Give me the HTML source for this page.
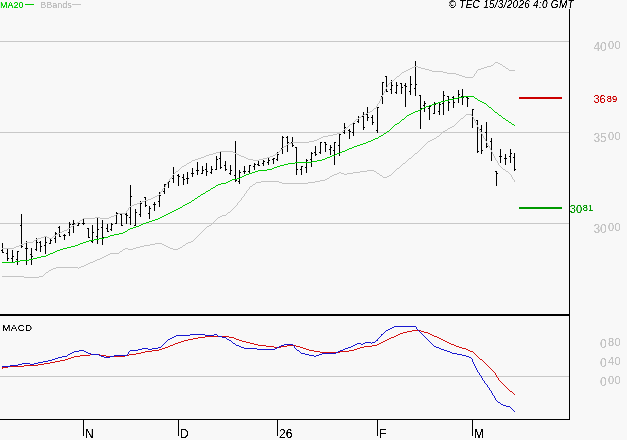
<!DOCTYPE html>
<html><head><meta charset="utf-8"><title>chart</title>
<style>
html,body{margin:0;padding:0;background:#f8f8f8;}
body{width:627px;height:440px;overflow:hidden;font-family:"Liberation Sans",sans-serif;}
svg{display:block;font-family:"Liberation Sans",sans-serif;}
</style></head><body>
<svg width="627" height="440" viewBox="0 0 627 440">
<defs><filter id="idf" x="0" y="0" width="627" height="440" filterUnits="userSpaceOnUse"><feComponentTransfer><feFuncA type="linear" slope="3" intercept="-0.75"/></feComponentTransfer></filter></defs>
<rect x="0" y="0" width="627" height="440" fill="#f8f8f8"/>
<g shape-rendering="crispEdges">
<rect x="0" y="41" width="569" height="1" fill="#c8c8c8"/>
<rect x="0" y="132" width="569" height="1" fill="#c8c8c8"/>
<rect x="0" y="223" width="569" height="1" fill="#c8c8c8"/>
<rect x="0" y="376" width="569" height="1" fill="#c8c8c8"/>
<g fill="#000"><rect x="2" y="243" width="1" height="10"/><rect x="1" y="250" width="1" height="1"/><rect x="3" y="252" width="1" height="1"/><rect x="7" y="249" width="1" height="12"/><rect x="6" y="253" width="1" height="1"/><rect x="8" y="258" width="1" height="1"/><rect x="12" y="250" width="1" height="12"/><rect x="11" y="258" width="1" height="1"/><rect x="13" y="256" width="1" height="1"/><rect x="17" y="251" width="1" height="14"/><rect x="16" y="259" width="1" height="1"/><rect x="18" y="251" width="1" height="1"/><rect x="21" y="214" width="1" height="34"/><rect x="20" y="225" width="1" height="1"/><rect x="22" y="246" width="1" height="1"/><rect x="26" y="241" width="1" height="24"/><rect x="25" y="248" width="1" height="1"/><rect x="27" y="248" width="1" height="1"/><rect x="31" y="248" width="1" height="17"/><rect x="30" y="254" width="1" height="1"/><rect x="32" y="256" width="1" height="1"/><rect x="36" y="238" width="1" height="13"/><rect x="35" y="249" width="1" height="1"/><rect x="37" y="242" width="1" height="1"/><rect x="40" y="241" width="1" height="11"/><rect x="39" y="242" width="1" height="1"/><rect x="41" y="246" width="1" height="1"/><rect x="45" y="236" width="1" height="18"/><rect x="44" y="245" width="1" height="1"/><rect x="46" y="242" width="1" height="1"/><rect x="50" y="239" width="1" height="5"/><rect x="49" y="243" width="1" height="1"/><rect x="51" y="240" width="1" height="1"/><rect x="55" y="232" width="1" height="11"/><rect x="54" y="238" width="1" height="1"/><rect x="56" y="233" width="1" height="1"/><rect x="59" y="226" width="1" height="11"/><rect x="58" y="227" width="1" height="1"/><rect x="60" y="236" width="1" height="1"/><rect x="64" y="234" width="1" height="6"/><rect x="63" y="235" width="1" height="1"/><rect x="65" y="235" width="1" height="1"/><rect x="69" y="222" width="1" height="14"/><rect x="68" y="232" width="1" height="1"/><rect x="70" y="224" width="1" height="1"/><rect x="73" y="220" width="1" height="13"/><rect x="72" y="224" width="1" height="1"/><rect x="74" y="223" width="1" height="1"/><rect x="78" y="222" width="1" height="4"/><rect x="77" y="225" width="1" height="1"/><rect x="79" y="223" width="1" height="1"/><rect x="83" y="219" width="1" height="6"/><rect x="82" y="223" width="1" height="1"/><rect x="84" y="223" width="1" height="1"/><rect x="88" y="228" width="1" height="10"/><rect x="87" y="228" width="1" height="1"/><rect x="89" y="237" width="1" height="1"/><rect x="92" y="225" width="1" height="18"/><rect x="91" y="241" width="1" height="1"/><rect x="93" y="232" width="1" height="1"/><rect x="97" y="218" width="1" height="26"/><rect x="96" y="236" width="1" height="1"/><rect x="98" y="229" width="1" height="1"/><rect x="102" y="220" width="1" height="25"/><rect x="101" y="227" width="1" height="1"/><rect x="103" y="237" width="1" height="1"/><rect x="107" y="224" width="1" height="8"/><rect x="106" y="228" width="1" height="1"/><rect x="108" y="231" width="1" height="1"/><rect x="111" y="223" width="1" height="8"/><rect x="110" y="229" width="1" height="1"/><rect x="112" y="224" width="1" height="1"/><rect x="116" y="212" width="1" height="12"/><rect x="115" y="223" width="1" height="1"/><rect x="117" y="213" width="1" height="1"/><rect x="121" y="214" width="1" height="12"/><rect x="120" y="214" width="1" height="1"/><rect x="122" y="225" width="1" height="1"/><rect x="126" y="213" width="1" height="11"/><rect x="125" y="214" width="1" height="1"/><rect x="127" y="215" width="1" height="1"/><rect x="130" y="185" width="1" height="40"/><rect x="129" y="217" width="1" height="1"/><rect x="131" y="196" width="1" height="1"/><rect x="135" y="209" width="1" height="17"/><rect x="134" y="225" width="1" height="1"/><rect x="136" y="212" width="1" height="1"/><rect x="140" y="201" width="1" height="16"/><rect x="139" y="214" width="1" height="1"/><rect x="141" y="203" width="1" height="1"/><rect x="145" y="197" width="1" height="10"/><rect x="144" y="197" width="1" height="1"/><rect x="146" y="205" width="1" height="1"/><rect x="149" y="206" width="1" height="13"/><rect x="148" y="213" width="1" height="1"/><rect x="150" y="208" width="1" height="1"/><rect x="154" y="202" width="1" height="9"/><rect x="153" y="204" width="1" height="1"/><rect x="155" y="204" width="1" height="1"/><rect x="159" y="192" width="1" height="15"/><rect x="158" y="201" width="1" height="1"/><rect x="160" y="195" width="1" height="1"/><rect x="164" y="184" width="1" height="10"/><rect x="163" y="191" width="1" height="1"/><rect x="165" y="184" width="1" height="1"/><rect x="168" y="181" width="1" height="7"/><rect x="167" y="183" width="1" height="1"/><rect x="169" y="181" width="1" height="1"/><rect x="173" y="167" width="1" height="16"/><rect x="172" y="178" width="1" height="1"/><rect x="174" y="173" width="1" height="1"/><rect x="178" y="174" width="1" height="12"/><rect x="177" y="175" width="1" height="1"/><rect x="179" y="176" width="1" height="1"/><rect x="183" y="174" width="1" height="11"/><rect x="182" y="177" width="1" height="1"/><rect x="184" y="179" width="1" height="1"/><rect x="187" y="172" width="1" height="12"/><rect x="186" y="178" width="1" height="1"/><rect x="188" y="178" width="1" height="1"/><rect x="192" y="168" width="1" height="9"/><rect x="191" y="173" width="1" height="1"/><rect x="193" y="173" width="1" height="1"/><rect x="197" y="162" width="1" height="13"/><rect x="196" y="170" width="1" height="1"/><rect x="198" y="170" width="1" height="1"/><rect x="202" y="166" width="1" height="8"/><rect x="201" y="173" width="1" height="1"/><rect x="203" y="170" width="1" height="1"/><rect x="206" y="163" width="1" height="13"/><rect x="205" y="169" width="1" height="1"/><rect x="207" y="171" width="1" height="1"/><rect x="211" y="166" width="1" height="8"/><rect x="210" y="172" width="1" height="1"/><rect x="212" y="169" width="1" height="1"/><rect x="216" y="156" width="1" height="14"/><rect x="215" y="169" width="1" height="1"/><rect x="217" y="159" width="1" height="1"/><rect x="220" y="151" width="1" height="18"/><rect x="219" y="158" width="1" height="1"/><rect x="221" y="167" width="1" height="1"/><rect x="225" y="161" width="1" height="10"/><rect x="224" y="165" width="1" height="1"/><rect x="226" y="169" width="1" height="1"/><rect x="230" y="165" width="1" height="10"/><rect x="229" y="173" width="1" height="1"/><rect x="231" y="170" width="1" height="1"/><rect x="235" y="141" width="1" height="41"/><rect x="234" y="175" width="1" height="1"/><rect x="236" y="180" width="1" height="1"/><rect x="239" y="170" width="1" height="14"/><rect x="238" y="181" width="1" height="1"/><rect x="240" y="172" width="1" height="1"/><rect x="244" y="166" width="1" height="8"/><rect x="243" y="171" width="1" height="1"/><rect x="245" y="171" width="1" height="1"/><rect x="249" y="165" width="1" height="9"/><rect x="248" y="171" width="1" height="1"/><rect x="250" y="165" width="1" height="1"/><rect x="254" y="163" width="1" height="7"/><rect x="253" y="166" width="1" height="1"/><rect x="255" y="164" width="1" height="1"/><rect x="258" y="161" width="1" height="5"/><rect x="257" y="164" width="1" height="1"/><rect x="259" y="165" width="1" height="1"/><rect x="263" y="160" width="1" height="6"/><rect x="262" y="163" width="1" height="1"/><rect x="264" y="161" width="1" height="1"/><rect x="268" y="157" width="1" height="8"/><rect x="267" y="162" width="1" height="1"/><rect x="269" y="160" width="1" height="1"/><rect x="273" y="158" width="1" height="6"/><rect x="272" y="159" width="1" height="1"/><rect x="274" y="158" width="1" height="1"/><rect x="277" y="152" width="1" height="9"/><rect x="276" y="159" width="1" height="1"/><rect x="278" y="154" width="1" height="1"/><rect x="282" y="136" width="1" height="18"/><rect x="281" y="148" width="1" height="1"/><rect x="283" y="137" width="1" height="1"/><rect x="287" y="136" width="1" height="16"/><rect x="286" y="137" width="1" height="1"/><rect x="288" y="142" width="1" height="1"/><rect x="292" y="137" width="1" height="10"/><rect x="291" y="142" width="1" height="1"/><rect x="293" y="145" width="1" height="1"/><rect x="296" y="147" width="1" height="28"/><rect x="295" y="147" width="1" height="1"/><rect x="297" y="169" width="1" height="1"/><rect x="301" y="166" width="1" height="9"/><rect x="300" y="169" width="1" height="1"/><rect x="302" y="166" width="1" height="1"/><rect x="306" y="159" width="1" height="14"/><rect x="305" y="167" width="1" height="1"/><rect x="307" y="160" width="1" height="1"/><rect x="311" y="152" width="1" height="15"/><rect x="310" y="159" width="1" height="1"/><rect x="312" y="153" width="1" height="1"/><rect x="315" y="146" width="1" height="10"/><rect x="314" y="152" width="1" height="1"/><rect x="316" y="154" width="1" height="1"/><rect x="320" y="142" width="1" height="12"/><rect x="319" y="152" width="1" height="1"/><rect x="321" y="142" width="1" height="1"/><rect x="325" y="142" width="1" height="10"/><rect x="324" y="142" width="1" height="1"/><rect x="326" y="144" width="1" height="1"/><rect x="330" y="145" width="1" height="10"/><rect x="329" y="149" width="1" height="1"/><rect x="331" y="147" width="1" height="1"/><rect x="334" y="142" width="1" height="23"/><rect x="333" y="150" width="1" height="1"/><rect x="335" y="142" width="1" height="1"/><rect x="339" y="134" width="1" height="22"/><rect x="338" y="145" width="1" height="1"/><rect x="340" y="134" width="1" height="1"/><rect x="344" y="123" width="1" height="11"/><rect x="343" y="132" width="1" height="1"/><rect x="345" y="127" width="1" height="1"/><rect x="349" y="129" width="1" height="10"/><rect x="348" y="130" width="1" height="1"/><rect x="350" y="131" width="1" height="1"/><rect x="353" y="123" width="1" height="13"/><rect x="352" y="132" width="1" height="1"/><rect x="354" y="123" width="1" height="1"/><rect x="358" y="116" width="1" height="7"/><rect x="357" y="121" width="1" height="1"/><rect x="359" y="117" width="1" height="1"/><rect x="363" y="112" width="1" height="18"/><rect x="362" y="116" width="1" height="1"/><rect x="364" y="127" width="1" height="1"/><rect x="367" y="107" width="1" height="14"/><rect x="366" y="114" width="1" height="1"/><rect x="368" y="117" width="1" height="1"/><rect x="372" y="115" width="1" height="10"/><rect x="371" y="117" width="1" height="1"/><rect x="373" y="122" width="1" height="1"/><rect x="377" y="107" width="1" height="26"/><rect x="376" y="130" width="1" height="1"/><rect x="378" y="107" width="1" height="1"/><rect x="382" y="82" width="1" height="22"/><rect x="381" y="96" width="1" height="1"/><rect x="383" y="82" width="1" height="1"/><rect x="386" y="76" width="1" height="16"/><rect x="385" y="76" width="1" height="1"/><rect x="387" y="91" width="1" height="1"/><rect x="391" y="80" width="1" height="14"/><rect x="390" y="89" width="1" height="1"/><rect x="392" y="85" width="1" height="1"/><rect x="396" y="82" width="1" height="12"/><rect x="395" y="92" width="1" height="1"/><rect x="397" y="85" width="1" height="1"/><rect x="401" y="83" width="1" height="11"/><rect x="400" y="83" width="1" height="1"/><rect x="402" y="87" width="1" height="1"/><rect x="405" y="83" width="1" height="24"/><rect x="404" y="85" width="1" height="1"/><rect x="406" y="86" width="1" height="1"/><rect x="410" y="76" width="1" height="19"/><rect x="409" y="91" width="1" height="1"/><rect x="411" y="84" width="1" height="1"/><rect x="415" y="61" width="1" height="35"/><rect x="414" y="88" width="1" height="1"/><rect x="416" y="84" width="1" height="1"/><rect x="420" y="95" width="1" height="34"/><rect x="419" y="95" width="1" height="1"/><rect x="421" y="108" width="1" height="1"/><rect x="424" y="101" width="1" height="11"/><rect x="423" y="105" width="1" height="1"/><rect x="425" y="103" width="1" height="1"/><rect x="429" y="106" width="1" height="14"/><rect x="428" y="108" width="1" height="1"/><rect x="430" y="106" width="1" height="1"/><rect x="434" y="102" width="1" height="12"/><rect x="433" y="113" width="1" height="1"/><rect x="435" y="104" width="1" height="1"/><rect x="439" y="103" width="1" height="12"/><rect x="438" y="111" width="1" height="1"/><rect x="440" y="104" width="1" height="1"/><rect x="443" y="91" width="1" height="24"/><rect x="442" y="103" width="1" height="1"/><rect x="444" y="95" width="1" height="1"/><rect x="448" y="96" width="1" height="15"/><rect x="447" y="96" width="1" height="1"/><rect x="449" y="102" width="1" height="1"/><rect x="453" y="96" width="1" height="12"/><rect x="452" y="97" width="1" height="1"/><rect x="454" y="102" width="1" height="1"/><rect x="458" y="90" width="1" height="13"/><rect x="457" y="98" width="1" height="1"/><rect x="459" y="94" width="1" height="1"/><rect x="462" y="89" width="1" height="16"/><rect x="461" y="96" width="1" height="1"/><rect x="463" y="97" width="1" height="1"/><rect x="467" y="97" width="1" height="10"/><rect x="466" y="97" width="1" height="1"/><rect x="468" y="98" width="1" height="1"/><rect x="472" y="109" width="1" height="19"/><rect x="471" y="114" width="1" height="1"/><rect x="473" y="109" width="1" height="1"/><rect x="477" y="120" width="1" height="33"/><rect x="476" y="120" width="1" height="1"/><rect x="478" y="151" width="1" height="1"/><rect x="481" y="125" width="1" height="29"/><rect x="480" y="129" width="1" height="1"/><rect x="482" y="150" width="1" height="1"/><rect x="486" y="122" width="1" height="26"/><rect x="485" y="132" width="1" height="1"/><rect x="487" y="146" width="1" height="1"/><rect x="491" y="138" width="1" height="23"/><rect x="490" y="141" width="1" height="1"/><rect x="492" y="153" width="1" height="1"/><rect x="496" y="171" width="1" height="15"/><rect x="495" y="171" width="1" height="1"/><rect x="497" y="173" width="1" height="1"/><rect x="500" y="149" width="1" height="14"/><rect x="499" y="156" width="1" height="1"/><rect x="501" y="156" width="1" height="1"/><rect x="505" y="154" width="1" height="11"/><rect x="504" y="158" width="1" height="1"/><rect x="506" y="158" width="1" height="1"/><rect x="510" y="149" width="1" height="14"/><rect x="509" y="156" width="1" height="1"/><rect x="511" y="153" width="1" height="1"/><rect x="514" y="153" width="1" height="18"/><rect x="513" y="157" width="1" height="1"/><rect x="515" y="169" width="1" height="1"/></g>
<path d="M495 62h3v1h-3zM494 63h1v1h-1zM498 63h2v1h-2zM493 64h1v1h-1zM500 64h2v1h-2zM491 65h2v1h-2zM502 65h1v1h-1zM414 66h4v1h-4zM487 66h4v1h-4zM503 66h2v1h-2zM412 67h2v1h-2zM418 67h3v1h-3zM484 67h3v1h-3zM505 67h1v1h-1zM410 68h2v1h-2zM421 68h4v1h-4zM481 68h3v1h-3zM506 68h2v1h-2zM408 69h2v1h-2zM425 69h4v1h-4zM478 69h3v1h-3zM508 69h1v1h-1zM406 70h2v1h-2zM429 70h3v1h-3zM477 70h1v1h-1zM509 70h6v1h-6zM404 71h2v1h-2zM432 71h11v1h-11zM476 71h1v1h-1zM402 72h2v1h-2zM443 72h4v1h-4zM476 72h1v1h-1zM401 73h1v1h-1zM447 73h9v1h-9zM475 73h1v1h-1zM400 74h1v1h-1zM456 74h3v1h-3zM474 74h1v1h-1zM399 75h1v1h-1zM459 75h3v1h-3zM474 75h1v1h-1zM397 76h2v1h-2zM462 76h3v1h-3zM473 76h1v1h-1zM396 77h1v1h-1zM465 77h8v1h-8zM395 78h1v1h-1zM394 79h1v1h-1zM393 80h1v1h-1zM391 81h2v1h-2zM390 82h1v1h-1zM389 83h1v1h-1zM388 84h1v1h-1zM387 85h1v1h-1zM387 86h1v1h-1zM386 87h1v1h-1zM386 88h1v1h-1zM385 89h1v1h-1zM385 90h1v1h-1zM384 91h1v1h-1zM384 92h1v1h-1zM383 93h1v1h-1zM383 94h1v1h-1zM382 95h1v1h-1zM382 96h1v1h-1zM381 97h1v1h-1zM381 98h1v1h-1zM380 99h1v1h-1zM380 100h1v1h-1zM379 101h1v1h-1zM379 102h1v1h-1zM378 103h1v1h-1zM377 104h1v1h-1zM377 105h1v1h-1zM376 106h1v1h-1zM376 107h1v1h-1zM374 108h2v1h-2zM373 109h1v1h-1zM372 110h1v1h-1zM370 111h2v1h-2zM368 112h2v1h-2zM366 113h2v1h-2zM364 114h2v1h-2zM362 115h2v1h-2zM361 116h1v1h-1zM359 117h2v1h-2zM358 118h1v1h-1zM356 119h2v1h-2zM355 120h1v1h-1zM354 121h1v1h-1zM353 122h1v1h-1zM352 123h1v1h-1zM350 124h2v1h-2zM349 125h1v1h-1zM348 126h1v1h-1zM347 127h1v1h-1zM346 128h1v1h-1zM344 129h2v1h-2zM343 130h1v1h-1zM342 131h1v1h-1zM340 132h2v1h-2zM337 133h3v1h-3zM333 134h4v1h-4zM328 135h5v1h-5zM323 136h5v1h-5zM321 137h2v1h-2zM319 138h2v1h-2zM317 139h2v1h-2zM314 140h3v1h-3zM309 141h5v1h-5zM292 142h17v1h-17zM289 143h3v1h-3zM287 144h2v1h-2zM286 145h1v1h-1zM284 146h2v1h-2zM283 147h1v1h-1zM282 148h1v1h-1zM281 149h1v1h-1zM280 150h1v1h-1zM220 151h13v1h-13zM279 151h1v1h-1zM216 152h4v1h-4zM233 152h2v1h-2zM278 152h1v1h-1zM213 153h3v1h-3zM235 153h2v1h-2zM276 153h2v1h-2zM209 154h4v1h-4zM237 154h2v1h-2zM275 154h1v1h-1zM206 155h3v1h-3zM239 155h2v1h-2zM273 155h2v1h-2zM204 156h2v1h-2zM241 156h3v1h-3zM270 156h3v1h-3zM201 157h3v1h-3zM244 157h2v1h-2zM267 157h3v1h-3zM198 158h3v1h-3zM246 158h2v1h-2zM263 158h4v1h-4zM195 159h3v1h-3zM248 159h5v1h-5zM259 159h4v1h-4zM192 160h3v1h-3zM253 160h6v1h-6zM191 161h1v1h-1zM189 162h2v1h-2zM187 163h2v1h-2zM186 164h1v1h-1zM184 165h2v1h-2zM182 166h2v1h-2zM181 167h1v1h-1zM180 168h1v1h-1zM179 169h1v1h-1zM178 170h1v1h-1zM176 171h2v1h-2zM175 172h1v1h-1zM174 173h1v1h-1zM173 174h1v1h-1zM172 175h1v1h-1zM172 176h1v1h-1zM171 177h1v1h-1zM170 178h1v1h-1zM169 179h1v1h-1zM169 180h1v1h-1zM168 181h1v1h-1zM167 182h1v1h-1zM167 183h1v1h-1zM166 184h1v1h-1zM165 185h1v1h-1zM165 186h1v1h-1zM164 187h1v1h-1zM163 188h1v1h-1zM162 189h1v1h-1zM162 190h1v1h-1zM161 191h1v1h-1zM160 192h1v1h-1zM160 193h1v1h-1zM159 194h1v1h-1zM157 195h2v1h-2zM155 196h2v1h-2zM153 197h2v1h-2zM151 198h2v1h-2zM148 199h3v1h-3zM145 200h3v1h-3zM142 201h3v1h-3zM140 202h2v1h-2zM137 203h3v1h-3zM134 204h3v1h-3zM132 205h2v1h-2zM130 206h2v1h-2zM129 207h1v1h-1zM128 208h1v1h-1zM128 209h1v1h-1zM127 210h1v1h-1zM126 211h1v1h-1zM126 212h1v1h-1zM118 213h8v1h-8zM116 214h2v1h-2zM114 215h2v1h-2zM111 216h3v1h-3zM95 217h5v1h-5zM109 217h2v1h-2zM83 218h12v1h-12zM100 218h9v1h-9zM82 219h1v1h-1zM80 220h2v1h-2zM79 221h1v1h-1zM77 222h2v1h-2zM76 223h1v1h-1zM74 224h2v1h-2zM73 225h1v1h-1zM71 226h2v1h-2zM70 227h1v1h-1zM68 228h2v1h-2zM67 229h1v1h-1zM64 230h3v1h-3zM62 231h2v1h-2zM60 232h2v1h-2zM58 233h2v1h-2zM56 234h2v1h-2zM54 235h2v1h-2zM44 236h3v1h-3zM53 236h1v1h-1zM41 237h3v1h-3zM47 237h2v1h-2zM52 237h1v1h-1zM38 238h3v1h-3zM49 238h3v1h-3zM36 239h2v1h-2zM34 240h2v1h-2zM33 241h1v1h-1zM26 242h7v1h-7zM24 243h2v1h-2zM21 244h3v1h-3zM19 245h2v1h-2zM16 246h3v1h-3zM14 247h2v1h-2zM2 248h12v1h-12z" fill="#c4c4c4"/>
<path d="M466 114h6v1h-6zM465 115h1v1h-1zM471 115h1v1h-1zM464 116h1v1h-1zM472 116h1v1h-1zM463 117h1v1h-1zM473 117h1v1h-1zM461 118h2v1h-2zM473 118h1v1h-1zM460 119h1v1h-1zM474 119h1v1h-1zM459 120h1v1h-1zM474 120h1v1h-1zM458 121h1v1h-1zM475 121h1v1h-1zM457 122h1v1h-1zM475 122h1v1h-1zM456 123h1v1h-1zM476 123h1v1h-1zM455 124h1v1h-1zM476 124h1v1h-1zM454 125h1v1h-1zM477 125h1v1h-1zM452 126h2v1h-2zM477 126h1v1h-1zM450 127h2v1h-2zM478 127h1v1h-1zM448 128h2v1h-2zM478 128h1v1h-1zM447 129h1v1h-1zM479 129h1v1h-1zM445 130h2v1h-2zM479 130h1v1h-1zM443 131h2v1h-2zM480 131h1v1h-1zM442 132h1v1h-1zM481 132h1v1h-1zM441 133h1v1h-1zM481 133h1v1h-1zM440 134h1v1h-1zM482 134h1v1h-1zM439 135h1v1h-1zM482 135h1v1h-1zM437 136h2v1h-2zM483 136h1v1h-1zM436 137h1v1h-1zM483 137h1v1h-1zM434 138h2v1h-2zM484 138h1v1h-1zM432 139h2v1h-2zM485 139h1v1h-1zM430 140h2v1h-2zM485 140h1v1h-1zM428 141h2v1h-2zM486 141h1v1h-1zM427 142h1v1h-1zM486 142h1v1h-1zM426 143h1v1h-1zM487 143h1v1h-1zM425 144h1v1h-1zM487 144h1v1h-1zM424 145h1v1h-1zM488 145h1v1h-1zM423 146h1v1h-1zM489 146h1v1h-1zM422 147h1v1h-1zM489 147h1v1h-1zM421 148h1v1h-1zM490 148h1v1h-1zM420 149h1v1h-1zM490 149h1v1h-1zM419 150h1v1h-1zM491 150h1v1h-1zM418 151h1v1h-1zM491 151h1v1h-1zM417 152h1v1h-1zM492 152h1v1h-1zM415 153h2v1h-2zM492 153h1v1h-1zM414 154h1v1h-1zM493 154h1v1h-1zM413 155h1v1h-1zM493 155h1v1h-1zM412 156h1v1h-1zM494 156h1v1h-1zM411 157h1v1h-1zM494 157h1v1h-1zM409 158h2v1h-2zM495 158h1v1h-1zM408 159h1v1h-1zM495 159h1v1h-1zM407 160h1v1h-1zM496 160h1v1h-1zM406 161h1v1h-1zM497 161h1v1h-1zM405 162h1v1h-1zM497 162h1v1h-1zM403 163h2v1h-2zM498 163h1v1h-1zM402 164h1v1h-1zM498 164h1v1h-1zM401 165h1v1h-1zM499 165h1v1h-1zM400 166h1v1h-1zM500 166h1v1h-1zM399 167h1v1h-1zM501 167h1v1h-1zM397 168h2v1h-2zM502 168h1v1h-1zM396 169h1v1h-1zM503 169h2v1h-2zM367 170h7v1h-7zM395 170h1v1h-1zM505 170h1v1h-1zM360 171h7v1h-7zM374 171h2v1h-2zM394 171h1v1h-1zM506 171h2v1h-2zM339 172h2v1h-2zM353 172h7v1h-7zM376 172h1v1h-1zM393 172h1v1h-1zM508 172h1v1h-1zM337 173h2v1h-2zM341 173h3v1h-3zM347 173h6v1h-6zM377 173h2v1h-2zM392 173h1v1h-1zM509 173h1v1h-1zM334 174h3v1h-3zM344 174h3v1h-3zM379 174h1v1h-1zM391 174h1v1h-1zM510 174h1v1h-1zM332 175h2v1h-2zM380 175h2v1h-2zM389 175h2v1h-2zM511 175h1v1h-1zM330 176h2v1h-2zM382 176h1v1h-1zM387 176h2v1h-2zM511 176h1v1h-1zM329 177h1v1h-1zM383 177h4v1h-4zM512 177h1v1h-1zM327 178h2v1h-2zM512 178h1v1h-1zM325 179h2v1h-2zM513 179h1v1h-1zM320 180h5v1h-5zM514 180h1v1h-1zM261 181h18v1h-18zM315 181h5v1h-5zM514 181h1v1h-1zM256 182h5v1h-5zM279 182h3v1h-3zM308 182h7v1h-7zM255 183h1v1h-1zM282 183h26v1h-26zM253 184h2v1h-2zM252 185h1v1h-1zM250 186h2v1h-2zM249 187h1v1h-1zM249 188h1v1h-1zM248 189h1v1h-1zM247 190h1v1h-1zM246 191h1v1h-1zM246 192h1v1h-1zM245 193h1v1h-1zM244 194h1v1h-1zM244 195h1v1h-1zM243 196h1v1h-1zM242 197h1v1h-1zM241 198h1v1h-1zM241 199h1v1h-1zM240 200h1v1h-1zM239 201h1v1h-1zM238 202h1v1h-1zM237 203h1v1h-1zM237 204h1v1h-1zM236 205h1v1h-1zM235 206h1v1h-1zM234 207h1v1h-1zM233 208h1v1h-1zM232 209h1v1h-1zM231 210h1v1h-1zM230 211h1v1h-1zM228 212h2v1h-2zM227 213h1v1h-1zM226 214h1v1h-1zM222 215h4v1h-4zM220 216h2v1h-2zM218 217h2v1h-2zM217 218h1v1h-1zM216 219h1v1h-1zM215 220h1v1h-1zM214 221h1v1h-1zM213 222h1v1h-1zM212 223h1v1h-1zM211 224h1v1h-1zM209 225h2v1h-2zM207 226h2v1h-2zM206 227h1v1h-1zM205 228h1v1h-1zM204 229h1v1h-1zM203 230h1v1h-1zM202 231h1v1h-1zM201 232h1v1h-1zM200 233h1v1h-1zM199 234h1v1h-1zM198 235h1v1h-1zM197 236h1v1h-1zM196 237h1v1h-1zM195 238h1v1h-1zM194 239h1v1h-1zM193 240h1v1h-1zM191 241h2v1h-2zM188 242h3v1h-3zM155 243h7v1h-7zM186 243h2v1h-2zM150 244h5v1h-5zM162 244h2v1h-2zM185 244h1v1h-1zM144 245h6v1h-6zM164 245h2v1h-2zM183 245h2v1h-2zM140 246h4v1h-4zM166 246h2v1h-2zM182 246h1v1h-1zM136 247h4v1h-4zM168 247h2v1h-2zM180 247h2v1h-2zM125 248h3v1h-3zM133 248h3v1h-3zM170 248h3v1h-3zM178 248h2v1h-2zM123 249h2v1h-2zM128 249h5v1h-5zM173 249h5v1h-5zM122 250h1v1h-1zM120 251h2v1h-2zM119 252h1v1h-1zM110 253h9v1h-9zM108 254h2v1h-2zM106 255h2v1h-2zM104 256h2v1h-2zM102 257h2v1h-2zM100 258h2v1h-2zM97 259h3v1h-3zM95 260h2v1h-2zM93 261h2v1h-2zM90 262h3v1h-3zM88 263h2v1h-2zM86 264h2v1h-2zM84 265h2v1h-2zM81 266h3v1h-3zM56 267h22v1h-22zM79 267h2v1h-2zM53 268h3v1h-3zM78 268h1v1h-1zM51 269h2v1h-2zM49 270h2v1h-2zM48 271h1v1h-1zM46 272h2v1h-2zM45 273h1v1h-1zM44 274h1v1h-1zM43 275h1v1h-1zM2 276h22v1h-22zM39 276h4v1h-4zM24 277h15v1h-15z" fill="#c4c4c4"/>
<path d="M463 96h11v1h-11zM458 97h5v1h-5zM474 97h1v1h-1zM454 98h4v1h-4zM475 98h2v1h-2zM449 99h5v1h-5zM477 99h1v1h-1zM445 100h4v1h-4zM478 100h2v1h-2zM441 101h4v1h-4zM480 101h2v1h-2zM438 102h3v1h-3zM482 102h2v1h-2zM435 103h3v1h-3zM484 103h2v1h-2zM432 104h3v1h-3zM486 104h1v1h-1zM429 105h3v1h-3zM487 105h1v1h-1zM426 106h3v1h-3zM488 106h1v1h-1zM424 107h2v1h-2zM489 107h2v1h-2zM422 108h2v1h-2zM491 108h1v1h-1zM420 109h2v1h-2zM492 109h1v1h-1zM418 110h2v1h-2zM493 110h1v1h-1zM415 111h3v1h-3zM494 111h1v1h-1zM413 112h2v1h-2zM495 112h2v1h-2zM411 113h2v1h-2zM497 113h1v1h-1zM409 114h2v1h-2zM498 114h1v1h-1zM407 115h2v1h-2zM499 115h2v1h-2zM406 116h1v1h-1zM501 116h1v1h-1zM405 117h1v1h-1zM502 117h1v1h-1zM404 118h1v1h-1zM503 118h2v1h-2zM402 119h2v1h-2zM505 119h1v1h-1zM401 120h1v1h-1zM506 120h2v1h-2zM400 121h1v1h-1zM508 121h1v1h-1zM399 122h1v1h-1zM509 122h2v1h-2zM397 123h2v1h-2zM511 123h1v1h-1zM395 124h2v1h-2zM512 124h2v1h-2zM394 125h1v1h-1zM514 125h1v1h-1zM393 126h1v1h-1zM392 127h1v1h-1zM391 128h1v1h-1zM390 129h1v1h-1zM389 130h1v1h-1zM387 131h2v1h-2zM386 132h1v1h-1zM384 133h2v1h-2zM383 134h1v1h-1zM381 135h2v1h-2zM379 136h2v1h-2zM378 137h1v1h-1zM375 138h3v1h-3zM373 139h2v1h-2zM371 140h2v1h-2zM368 141h3v1h-3zM366 142h2v1h-2zM363 143h3v1h-3zM360 144h3v1h-3zM357 145h3v1h-3zM354 146h3v1h-3zM352 147h2v1h-2zM349 148h3v1h-3zM347 149h2v1h-2zM345 150h2v1h-2zM342 151h3v1h-3zM340 152h2v1h-2zM337 153h3v1h-3zM335 154h2v1h-2zM332 155h3v1h-3zM330 156h2v1h-2zM327 157h3v1h-3zM325 158h2v1h-2zM322 159h3v1h-3zM317 160h5v1h-5zM312 161h5v1h-5zM295 162h17v1h-17zM288 163h7v1h-7zM284 164h4v1h-4zM280 165h4v1h-4zM277 166h3v1h-3zM274 167h3v1h-3zM272 168h2v1h-2zM267 169h5v1h-5zM258 170h9v1h-9zM255 171h3v1h-3zM252 172h3v1h-3zM249 173h3v1h-3zM246 174h3v1h-3zM244 175h2v1h-2zM242 176h2v1h-2zM240 177h2v1h-2zM237 178h3v1h-3zM232 179h5v1h-5zM230 180h2v1h-2zM228 181h2v1h-2zM226 182h2v1h-2zM221 183h5v1h-5zM218 184h3v1h-3zM216 185h2v1h-2zM215 186h1v1h-1zM213 187h2v1h-2zM211 188h2v1h-2zM210 189h1v1h-1zM208 190h2v1h-2zM206 191h2v1h-2zM205 192h1v1h-1zM203 193h2v1h-2zM201 194h2v1h-2zM200 195h1v1h-1zM198 196h2v1h-2zM197 197h1v1h-1zM195 198h2v1h-2zM194 199h1v1h-1zM192 200h2v1h-2zM191 201h1v1h-1zM189 202h2v1h-2zM187 203h2v1h-2zM185 204h2v1h-2zM183 205h2v1h-2zM182 206h1v1h-1zM180 207h2v1h-2zM178 208h2v1h-2zM176 209h2v1h-2zM174 210h2v1h-2zM172 211h2v1h-2zM170 212h2v1h-2zM168 213h2v1h-2zM166 214h2v1h-2zM164 215h2v1h-2zM162 216h2v1h-2zM160 217h2v1h-2zM158 218h2v1h-2zM155 219h3v1h-3zM152 220h3v1h-3zM149 221h3v1h-3zM146 222h3v1h-3zM143 223h3v1h-3zM141 224h2v1h-2zM139 225h2v1h-2zM136 226h3v1h-3zM133 227h3v1h-3zM130 228h3v1h-3zM128 229h2v1h-2zM127 230h1v1h-1zM125 231h2v1h-2zM123 232h2v1h-2zM119 233h4v1h-4zM114 234h5v1h-5zM110 235h4v1h-4zM108 236h2v1h-2zM104 237h4v1h-4zM99 238h5v1h-5zM94 239h5v1h-5zM89 240h5v1h-5zM86 241h3v1h-3zM83 242h3v1h-3zM80 243h3v1h-3zM78 244h2v1h-2zM75 245h3v1h-3zM71 246h4v1h-4zM67 247h4v1h-4zM63 248h4v1h-4zM60 249h3v1h-3zM57 250h3v1h-3zM55 251h2v1h-2zM53 252h2v1h-2zM50 253h3v1h-3zM48 254h2v1h-2zM46 255h2v1h-2zM41 256h5v1h-5zM37 257h4v1h-4zM33 258h4v1h-4zM29 259h4v1h-4zM20 260h9v1h-9zM15 261h5v1h-5zM2 262h13v1h-13z" fill="#00cc00"/>
<path d="M412 330h9v1h-9zM407 331h5v1h-5zM421 331h3v1h-3zM403 332h4v1h-4zM424 332h4v1h-4zM400 333h3v1h-3zM428 333h2v1h-2zM398 334h2v1h-2zM430 334h2v1h-2zM396 335h2v1h-2zM432 335h2v1h-2zM205 336h24v1h-24zM394 336h2v1h-2zM434 336h3v1h-3zM198 337h7v1h-7zM229 337h5v1h-5zM391 337h3v1h-3zM437 337h2v1h-2zM193 338h5v1h-5zM234 338h2v1h-2zM389 338h2v1h-2zM439 338h2v1h-2zM188 339h5v1h-5zM236 339h3v1h-3zM387 339h2v1h-2zM441 339h2v1h-2zM184 340h4v1h-4zM239 340h3v1h-3zM385 340h2v1h-2zM443 340h2v1h-2zM181 341h3v1h-3zM242 341h4v1h-4zM383 341h2v1h-2zM445 341h2v1h-2zM178 342h3v1h-3zM246 342h4v1h-4zM381 342h2v1h-2zM447 342h2v1h-2zM175 343h3v1h-3zM250 343h4v1h-4zM379 343h2v1h-2zM449 343h2v1h-2zM173 344h2v1h-2zM254 344h4v1h-4zM377 344h2v1h-2zM451 344h3v1h-3zM170 345h3v1h-3zM258 345h8v1h-8zM287 345h9v1h-9zM372 345h5v1h-5zM454 345h2v1h-2zM168 346h2v1h-2zM266 346h8v1h-8zM281 346h6v1h-6zM296 346h4v1h-4zM364 346h8v1h-8zM456 346h3v1h-3zM165 347h3v1h-3zM274 347h7v1h-7zM300 347h3v1h-3zM360 347h4v1h-4zM459 347h3v1h-3zM162 348h3v1h-3zM303 348h3v1h-3zM357 348h3v1h-3zM462 348h4v1h-4zM159 349h3v1h-3zM306 349h3v1h-3zM354 349h3v1h-3zM466 349h2v1h-2zM152 350h7v1h-7zM309 350h5v1h-5zM349 350h5v1h-5zM468 350h2v1h-2zM145 351h7v1h-7zM314 351h6v1h-6zM340 351h9v1h-9zM470 351h3v1h-3zM141 352h4v1h-4zM320 352h20v1h-20zM473 352h1v1h-1zM136 353h5v1h-5zM474 353h1v1h-1zM90 354h10v1h-10zM129 354h7v1h-7zM475 354h1v1h-1zM80 355h10v1h-10zM100 355h6v1h-6zM125 355h4v1h-4zM476 355h1v1h-1zM74 356h6v1h-6zM106 356h19v1h-19zM477 356h1v1h-1zM71 357h3v1h-3zM478 357h1v1h-1zM68 358h3v1h-3zM479 358h1v1h-1zM65 359h3v1h-3zM480 359h2v1h-2zM60 360h5v1h-5zM482 360h1v1h-1zM55 361h5v1h-5zM483 361h1v1h-1zM50 362h5v1h-5zM484 362h1v1h-1zM44 363h6v1h-6zM485 363h1v1h-1zM38 364h6v1h-6zM486 364h1v1h-1zM24 365h14v1h-14zM487 365h1v1h-1zM8 366h16v1h-16zM488 366h1v1h-1zM2 367h6v1h-6zM489 367h1v1h-1zM2 368h1v1h-1zM490 368h1v1h-1zM491 369h1v1h-1zM492 370h1v1h-1zM493 371h1v1h-1zM494 372h1v1h-1zM495 373h1v1h-1zM495 374h1v1h-1zM496 375h1v1h-1zM496 376h1v1h-1zM497 377h1v1h-1zM498 378h1v1h-1zM498 379h1v1h-1zM499 380h1v1h-1zM500 381h1v1h-1zM501 382h1v1h-1zM502 383h1v1h-1zM503 384h1v1h-1zM504 385h1v1h-1zM505 386h1v1h-1zM506 387h1v1h-1zM507 388h1v1h-1zM508 389h1v1h-1zM509 390h1v1h-1zM510 391h2v1h-2zM512 392h1v1h-1zM513 393h1v1h-1zM514 394h1v1h-1z" fill="#d41010"/>
<path d="M394 326h22v1h-22zM392 327h2v1h-2zM416 327h1v1h-1zM390 328h2v1h-2zM416 328h1v1h-1zM388 329h2v1h-2zM417 329h1v1h-1zM386 330h2v1h-2zM418 330h1v1h-1zM385 331h1v1h-1zM419 331h1v1h-1zM384 332h1v1h-1zM420 332h1v1h-1zM383 333h1v1h-1zM421 333h1v1h-1zM190 334h15v1h-15zM214 334h3v1h-3zM381 334h2v1h-2zM422 334h1v1h-1zM176 335h14v1h-14zM205 335h9v1h-9zM217 335h1v1h-1zM381 335h1v1h-1zM423 335h1v1h-1zM174 336h2v1h-2zM218 336h4v1h-4zM380 336h1v1h-1zM424 336h1v1h-1zM172 337h2v1h-2zM222 337h4v1h-4zM379 337h1v1h-1zM425 337h1v1h-1zM170 338h2v1h-2zM226 338h1v1h-1zM378 338h1v1h-1zM426 338h1v1h-1zM168 339h2v1h-2zM227 339h2v1h-2zM377 339h1v1h-1zM427 339h1v1h-1zM167 340h1v1h-1zM229 340h2v1h-2zM376 340h2v1h-2zM428 340h1v1h-1zM166 341h1v1h-1zM231 341h1v1h-1zM375 341h1v1h-1zM429 341h1v1h-1zM165 342h1v1h-1zM232 342h1v1h-1zM365 342h6v1h-6zM372 342h3v1h-3zM430 342h1v1h-1zM164 343h1v1h-1zM233 343h2v1h-2zM357 343h4v1h-4zM363 343h2v1h-2zM371 343h1v1h-1zM431 343h1v1h-1zM163 344h1v1h-1zM235 344h1v1h-1zM284 344h9v1h-9zM355 344h2v1h-2zM361 344h2v1h-2zM432 344h1v1h-1zM162 345h1v1h-1zM236 345h3v1h-3zM281 345h3v1h-3zM293 345h1v1h-1zM353 345h2v1h-2zM433 345h1v1h-1zM161 346h1v1h-1zM239 346h2v1h-2zM279 346h2v1h-2zM294 346h1v1h-1zM351 346h2v1h-2zM434 346h2v1h-2zM158 347h3v1h-3zM241 347h3v1h-3zM277 347h2v1h-2zM294 347h1v1h-1zM348 347h3v1h-3zM436 347h3v1h-3zM142 348h6v1h-6zM152 348h6v1h-6zM244 348h13v1h-13zM275 348h2v1h-2zM295 348h1v1h-1zM345 348h3v1h-3zM439 348h2v1h-2zM138 349h4v1h-4zM148 349h4v1h-4zM257 349h18v1h-18zM296 349h1v1h-1zM343 349h2v1h-2zM441 349h3v1h-3zM79 350h5v1h-5zM130 350h8v1h-8zM297 350h2v1h-2zM340 350h3v1h-3zM444 350h3v1h-3zM74 351h5v1h-5zM84 351h2v1h-2zM129 351h1v1h-1zM299 351h1v1h-1zM338 351h2v1h-2zM447 351h3v1h-3zM72 352h2v1h-2zM86 352h2v1h-2zM128 352h1v1h-1zM300 352h1v1h-1zM336 352h2v1h-2zM450 352h2v1h-2zM70 353h2v1h-2zM88 353h3v1h-3zM128 353h1v1h-1zM301 353h4v1h-4zM322 353h14v1h-14zM452 353h5v1h-5zM68 354h2v1h-2zM91 354h8v1h-8zM127 354h1v1h-1zM305 354h4v1h-4zM319 354h3v1h-3zM457 354h5v1h-5zM67 355h1v1h-1zM99 355h2v1h-2zM114 355h13v1h-13zM309 355h5v1h-5zM316 355h3v1h-3zM462 355h4v1h-4zM62 356h5v1h-5zM101 356h3v1h-3zM110 356h4v1h-4zM314 356h2v1h-2zM466 356h3v1h-3zM58 357h4v1h-4zM104 357h6v1h-6zM469 357h2v1h-2zM55 358h3v1h-3zM471 358h1v1h-1zM52 359h3v1h-3zM472 359h1v1h-1zM48 360h4v1h-4zM472 360h1v1h-1zM43 361h5v1h-5zM472 361h1v1h-1zM38 362h5v1h-5zM473 362h1v1h-1zM22 363h8v1h-8zM34 363h4v1h-4zM473 363h1v1h-1zM18 364h4v1h-4zM30 364h4v1h-4zM474 364h1v1h-1zM10 365h8v1h-8zM474 365h1v1h-1zM2 366h8v1h-8zM475 366h1v1h-1zM475 367h1v1h-1zM476 368h1v1h-1zM476 369h1v1h-1zM477 370h1v1h-1zM477 371h1v1h-1zM478 372h1v1h-1zM479 373h1v1h-1zM479 374h1v1h-1zM480 375h1v1h-1zM481 376h1v1h-1zM481 377h1v1h-1zM482 378h1v1h-1zM482 379h1v1h-1zM483 380h1v1h-1zM484 381h1v1h-1zM484 382h1v1h-1zM485 383h1v1h-1zM486 384h1v1h-1zM487 385h1v1h-1zM487 386h1v1h-1zM488 387h1v1h-1zM489 388h1v1h-1zM489 389h1v1h-1zM490 390h1v1h-1zM491 391h1v1h-1zM491 392h1v1h-1zM492 393h1v1h-1zM492 394h1v1h-1zM493 395h1v1h-1zM494 396h1v1h-1zM494 397h1v1h-1zM495 398h1v1h-1zM495 399h1v1h-1zM496 400h1v1h-1zM497 401h1v1h-1zM498 402h2v1h-2zM500 403h1v1h-1zM501 404h2v1h-2zM503 405h3v1h-3zM506 406h4v1h-4zM510 407h1v1h-1zM511 408h1v1h-1zM512 409h1v1h-1zM513 410h1v1h-1zM514 411h1v1h-1z" fill="#1818d0"/>
<rect x="0" y="314" width="570" height="2" fill="#000"/>
<rect x="569" y="9" width="1" height="411" fill="#000"/>
<rect x="0" y="419" width="570" height="1" fill="#000"/>
<rect x="83" y="419" width="1" height="17" fill="#000"/>
<rect x="178" y="419" width="1" height="17" fill="#000"/>
<rect x="277" y="419" width="1" height="17" fill="#000"/>
<rect x="377" y="419" width="1" height="17" fill="#000"/>
<rect x="472" y="419" width="1" height="17" fill="#000"/>
<rect x="519" y="97" width="43" height="2" fill="#cc0000"/>
<rect x="519" y="207" width="43" height="2" fill="#009900"/>
<rect x="25" y="4" width="9" height="1" fill="#00cc00"/>
<rect x="72" y="4" width="9" height="1" fill="#c4c4c4"/>
</g>
<g filter="url(#idf)">
<text x="0" y="7.9" font-size="9" fill="#00cc00" >MA20</text>
<text x="40.2" y="7.9" font-size="9" fill="#c0c0c0" >BBands</text>
<text x="448.6" y="8" font-size="10" fill="#000" font-style="italic" letter-spacing="0.27">© TEC 15/3/2026 4:0 GMT</text>
<text x="2.3" y="330.8" font-size="9.7" fill="#000" letter-spacing="0.4">MACD</text>
<text x="606.8" y="51.099999999999994" font-size="12" fill="#c4c4c4" text-anchor="end">40</text>
<text transform="translate(608.1,49.10) scale(1.1,1)" font-size="10" fill="#c4c4c4" letter-spacing="0.3">00</text>
<text x="606.8" y="142.1" font-size="12" fill="#c4c4c4" text-anchor="end">35</text>
<text transform="translate(608.1,140.10) scale(1.1,1)" font-size="10" fill="#c4c4c4" letter-spacing="0.3">00</text>
<text x="606.8" y="233.1" font-size="12" fill="#c4c4c4" text-anchor="end">30</text>
<text transform="translate(608.1,231.10) scale(1.1,1)" font-size="10" fill="#c4c4c4" letter-spacing="0.3">00</text>
<text x="606.8" y="347.9" font-size="12" fill="#c4c4c4" text-anchor="end">0</text>
<text transform="translate(608.1,345.90) scale(1.1,1)" font-size="10" fill="#c4c4c4" letter-spacing="0.3">80</text>
<text x="606.8" y="366.8" font-size="12" fill="#c4c4c4" text-anchor="end">0</text>
<text transform="translate(608.1,364.80) scale(1.1,1)" font-size="10" fill="#c4c4c4" letter-spacing="0.3">40</text>
<text x="606.8" y="385.8" font-size="12" fill="#c4c4c4" text-anchor="end">0</text>
<text transform="translate(608.1,383.80) scale(1.1,1)" font-size="10" fill="#c4c4c4" letter-spacing="0.3">00</text>
<text x="593.5" y="103" font-size="11" fill="#cc0000" >36</text>
<text x="606.8" y="101.8" font-size="9.3" fill="#cc0000" >89</text>
<text x="569.8" y="212.8" font-size="11" fill="#009900" >30</text>
<text x="582.8" y="211.3" font-size="9.3" fill="#009900" >81</text>
<text x="85" y="437.7" font-size="12" fill="#000" >N</text>
<text x="180" y="437.7" font-size="12" fill="#000" >D</text>
<text x="279" y="437.7" font-size="12" fill="#000" >26</text>
<text x="379" y="437.7" font-size="12" fill="#000" >F</text>
<text x="474" y="437.7" font-size="12" fill="#000" >M</text>
</g>
</svg></body></html>
